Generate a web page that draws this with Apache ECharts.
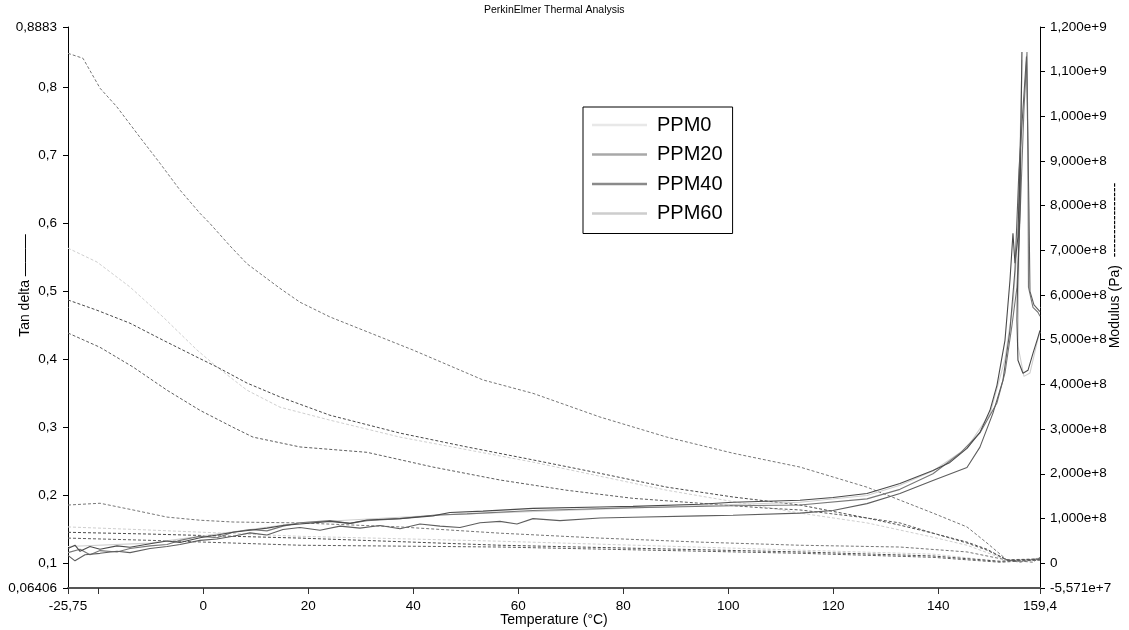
<!DOCTYPE html>
<html>
<head>
<meta charset="utf-8">
<script src="https://cdn.jsdelivr.net/npm/echarts@6/dist/echarts.min.js"></script>
<style>
html,body{margin:0;padding:0;background:#fff;}
#chart{width:1129px;height:630px;}
</style>
</head>
<body>
<div id="chart"></div>
<script>
// ---------- DATA ----------
const samples = ['PPM0', 'PPM20', 'PPM40', 'PPM60'];
const xTicks = [-25.75, -20, 0, 20, 40, 60, 80, 100, 120, 140, 159.4];
const xLabels = [-25.75, 0, 20, 40, 60, 80, 100, 120, 140, 159.4];
const tanTicks = [0.06406, 0.1, 0.2, 0.3, 0.4, 0.5, 0.6, 0.7, 0.8, 0.8883];
const modTicks = [-5.571e7, 0, 1e8, 2e8, 3e8, 4e8, 5e8, 6e8, 7e8, 8e8, 9e8, 1e9, 1.1e9, 1.2e9];

// Storage modulus (Pa) vs temperature (°C) — dashed, right axis
const storagePPM0 = [[-25.75,7.05e8],[-20.23,6.74e8],[-13.94,6.18e8],[-7.65,5.51e8],[-1.18,4.77e8],[2.63,4.39e8],[8.35,3.87e8],[14.63,3.49e8],[24.15,3.20e8],[37.49,2.82e8],[62.82,2.26e8],[88.34,1.63e8],[113.68,1.12e8],[126.44,0.90e8],[139.01,0.58e8],[145.49,0.40e8],[153.11,0.07e8],[159.4,0.11e8]];
const storagePPM20 = [[-25.75,11.41e8],[-22.9,11.30e8],[-19.65,10.63e8],[-16.42,10.21e8],[-12.04,9.53e8],[-8.23,8.95e8],[-4.42,8.35e8],[-0.61,7.83e8],[1.3,7.6e8],[5.11,7.1e8],[8.35,6.7e8],[14.63,6.15e8],[18.44,5.84e8],[24.15,5.51e8],[39.96,4.77e8],[53.3,4.10e8],[62.82,3.80e8],[75.58,3.27e8],[88.34,2.82e8],[100.92,2.46e8],[113.68,2.15e8],[126.44,1.70e8],[132.72,1.41e8],[139.01,1.12e8],[145.49,0.81e8],[149.3,0.45e8],[153.11,0.07e8],[155.58,0.02e8],[159.4,0.11e8]];
const storagePPM40 = [[-25.75,5.89e8],[-20.23,5.66e8],[-13.94,5.37e8],[-7.65,4.99e8],[-1.18,4.61e8],[2.63,4.39e8],[8.35,4.03e8],[14.63,3.72e8],[24.15,3.31e8],[37.49,2.91e8],[50.25,2.60e8],[62.82,2.31e8],[75.58,2.01e8],[88.34,1.70e8],[100.92,1.48e8],[113.68,1.30e8],[126.44,1.01e8],[132.72,0.85e8],[139.01,0.67e8],[145.49,0.47e8],[149.3,0.31e8],[153.11,0.07e8],[159.4,0.09e8]];
const storagePPM60 = [[-25.75,5.15e8],[-19.65,4.83e8],[-13.37,4.39e8],[-6.89,3.87e8],[-0.61,3.42e8],[5.68,3.04e8],[9.49,2.82e8],[18.44,2.60e8],[31.2,2.48e8],[43.77,2.15e8],[56.54,1.86e8],[69.3,1.63e8],[81.87,1.45e8],[94.63,1.34e8],[107.39,1.23e8],[113.68,1.19e8],[126.44,1.01e8],[132.72,0.90e8],[139.01,0.67e8],[145.49,0.45e8],[149.3,0.29e8],[153.11,0.07e8],[159.4,0.07e8]];

// Loss modulus (Pa) — dashed, right axis
const lossPPM0 = [[-25.75,0.81e8],[-10.13,0.74e8],[18.44,0.60e8],[56.54,0.49e8],[113.68,0.29e8],[139.01,0.20e8],[151.77,0.04e8],[159.4,0.09e8]];
const lossPPM20 = [[-25.75,1.30e8],[-19.65,1.34e8],[-13.37,1.19e8],[-6.89,1.03e8],[-0.61,0.96e8],[5.68,0.92e8],[18.44,0.90e8],[37.49,0.81e8],[56.54,0.67e8],[75.58,0.56e8],[94.63,0.47e8],[113.68,0.40e8],[132.72,0.36e8],[145.49,0.25e8],[153.11,0.07e8],[158.06,0.02e8],[159.4,0.13e8]];
const lossPPM40 = [[-25.75,0.69e8],[-10.13,0.65e8],[18.44,0.56e8],[56.54,0.40e8],[113.68,0.25e8],[139.01,0.16e8],[151.77,0.04e8],[159.4,0.09e8]];
const lossPPM60 = [[-25.75,0.56e8],[-10.13,0.51e8],[18.44,0.40e8],[56.54,0.36e8],[113.68,0.22e8],[139.01,0.13e8],[151.77,0.02e8],[159.4,0.07e8]];

// Tan delta — solid, left axis
const tanPPM0 = [[-25.75,0.125],[-10.13,0.130],[-0.61,0.140],[18.44,0.160],[47.01,0.172],[75.58,0.180],[113.68,0.190],[126.44,0.200],[132.72,0.215],[139.01,0.236],[145.49,0.27],[149.87,0.32],[152.73,0.40],[154.25,0.48],[155.2,0.58],[155.96,0.84],[155.39,0.55],[155.2,0.42],[156.34,0.375],[157.49,0.38],[159.01,0.43],[159.4,0.44]];
const tanPPM20 = [[-25.75,0.116],[-23.46,0.121],[-21.56,0.113],[-19.65,0.119],[-16.42,0.117],[-13.94,0.122],[-10.13,0.126],[-6.89,0.128],[-4.42,0.134],[-0.61,0.140],[2.63,0.138],[5.68,0.146],[8.92,0.150],[12.15,0.148],[15.2,0.155],[18.44,0.160],[24.15,0.163],[27.96,0.159],[31.2,0.163],[37.49,0.166],[43.77,0.171],[50.25,0.173],[62.82,0.178],[81.87,0.182],[100.92,0.185],[113.68,0.186],[126.44,0.195],[132.72,0.209],[139.01,0.232],[144.15,0.262],[147.96,0.292],[151.2,0.336],[152.73,0.380],[154.06,0.450],[155.01,0.506],[155.58,0.605],[156.34,0.766],[156.92,0.8515],[157.11,0.707],[157.2,0.506],[158.06,0.4765],[159.01,0.4692],[159.4,0.4633]];
const tanPPM40 = [[-25.75,0.122],[-24.42,0.127],[-23.46,0.118],[-21.56,0.125],[-19.65,0.121],[-16.42,0.126],[-13.94,0.124],[-10.13,0.129],[-6.89,0.133],[-4.42,0.131],[-0.61,0.138],[2.63,0.142],[5.68,0.146],[8.92,0.149],[12.15,0.152],[15.2,0.156],[18.44,0.158],[24.15,0.162],[27.96,0.159],[31.2,0.164],[37.49,0.166],[43.77,0.170],[47.01,0.175],[53.3,0.177],[62.82,0.181],[75.58,0.183],[81.87,0.184],[94.63,0.187],[100.92,0.190],[113.68,0.193],[119.96,0.197],[126.44,0.203],[132.72,0.2177],[139.01,0.2368],[142.25,0.2486],[145.49,0.2692],[147.96,0.2927],[149.87,0.3251],[151.2,0.3618],[152.73,0.4280],[153.68,0.5162],[154.25,0.5854],[154.63,0.5412],[155.2,0.58],[155.77,0.75],[155.96,0.8515],[155.58,0.62],[155.1,0.50],[155.01,0.4574],[155.2,0.3986],[156.15,0.3795],[157.11,0.3839],[158.06,0.4089],[159.01,0.4324],[159.4,0.4427]];
const tanPPM60 = [[-25.75,0.112],[-24.42,0.104],[-22.51,0.113],[-19.65,0.115],[-16.42,0.118],[-13.94,0.116],[-10.13,0.122],[-6.89,0.125],[-4.42,0.128],[-0.61,0.134],[2.63,0.136],[5.68,0.140],[8.92,0.145],[12.15,0.142],[15.2,0.150],[18.44,0.153],[22.25,0.149],[26.06,0.155],[29.87,0.152],[33.68,0.156],[37.49,0.151],[41.3,0.158],[45.11,0.155],[48.92,0.153],[52.73,0.160],[56.54,0.162],[59.77,0.158],[62.82,0.166],[67.96,0.163],[75.58,0.167],[81.87,0.168],[94.63,0.170],[100.92,0.171],[113.68,0.174],[119.96,0.178],[126.44,0.188],[132.72,0.203],[139.01,0.222],[145.49,0.241],[147.96,0.271],[150.44,0.321],[152.34,0.369],[153.68,0.443],[154.63,0.531],[155.39,0.678],[156.82,0.845],[157.3,0.62],[157.49,0.50],[158.25,0.48],[159.4,0.47]];

// ---------- STYLE ----------
const curveColor = {PPM0:'#cfcfcf', PPM20:'#777777', PPM40:'#4a4a4a', PPM60:'#5e5e5e'};
const legendColor = {PPM0:'#e8e8e8', PPM20:'#a8a8a8', PPM40:'#8a8a8a', PPM60:'#cdcdcd'};
const FONT = 'Liberation Sans, Arial, sans-serif';

function fmtDec(v){ return String(v).replace('.', ','); }
function fmtSci(v){
  if (v === 0) return '0';
  const e = Math.floor(Math.log10(Math.abs(v)) + 1e-12);
  const m = v / Math.pow(10, e);
  return m.toFixed(3).replace('.', ',') + 'e+' + e;
}

const tanSets = {PPM0: tanPPM0, PPM20: tanPPM20, PPM40: tanPPM40, PPM60: tanPPM60};
const storSets = {PPM0: storagePPM0, PPM20: storagePPM20, PPM40: storagePPM40, PPM60: storagePPM60};
const lossSets = {PPM0: lossPPM0, PPM20: lossPPM20, PPM40: lossPPM40, PPM60: lossPPM60};

const series = [];
samples.forEach(s => {
  series.push({name: s, type:'line', yAxisIndex:0, data: tanSets[s], symbol:'none', showSymbol:false,
    lineStyle:{color: curveColor[s], width:1.1}, itemStyle:{color: curveColor[s]}, z:3});
});
samples.forEach(s => {
  series.push({name: s, type:'line', yAxisIndex:1, data: storSets[s], symbol:'none', showSymbol:false,
    lineStyle:{color: curveColor[s], width:1, type:[3,2]}, itemStyle:{color: curveColor[s]}, z:2});
  series.push({name: s, type:'line', yAxisIndex:1, data: lossSets[s], symbol:'none', showSymbol:false,
    lineStyle:{color: curveColor[s], width:1, type:[3,2]}, itemStyle:{color: curveColor[s]}, z:2});
});

const chart = echarts.init(document.getElementById('chart'), null, {renderer:'canvas'});
chart.setOption({
  animation: false,
  backgroundColor: '#fff',
  textStyle: {fontFamily: FONT},
  title: {text: 'PerkinElmer Thermal Analysis', left: 484, top: 5, padding: 0,
    textStyle: {fontSize: 10.5, fontWeight: 'normal', color: '#000', fontFamily: FONT}},
  legend: {
    orient: 'vertical', left: 583, top: 107,
    backgroundColor: '#fff', borderColor: '#000', borderWidth: 1, borderRadius: 0,
    padding: [8, 10, 10, 9], itemWidth: 55, itemHeight: 2.5, itemGap: 9.5,
    icon: 'rect',
    textStyle: {fontSize: 20, color: '#000', fontFamily: FONT, padding: [0, 0, 0, 5]},
    data: samples.map(s => ({name: s, icon: 'rect', itemStyle: {color: legendColor[s], borderWidth: 0}}))
  },
  grid: {left: 68, right: 89, top: 27, bottom: 42, containLabel: false, outerBoundsMode: 'none'},
  xAxis: {
    type: 'value', min: -25.75, max: 159.4,
    name: 'Temperature (°C)', nameLocation: 'middle', nameGap: 25, nameMoveOverlap: false,
    nameTextStyle: {fontSize: 14, color: '#000', fontFamily: FONT},
    axisLine: {onZero: false, lineStyle: {color: '#555', width: 2}},
    axisTick: {customValues: xTicks, length: 6, lineStyle: {color: '#333', width: 1}},
    axisLabel: {customValues: xLabels, formatter: fmtDec, fontSize: 13.5, color: '#000', margin: 11, fontFamily: FONT},
    splitLine: {show: false}
  },
  yAxis: [{
    type: 'value', position: 'left', min: 0.06406, max: 0.8883,
    name: 'Tan delta ———', nameLocation: 'middle', nameRotate: 90, nameGap: 43, nameMoveOverlap: false,
    nameTextStyle: {fontSize: 14, color: '#000', fontFamily: FONT, align: 'center', verticalAlign: 'middle', padding: [0, 0, 0, 44]},
    axisLine: {show: true, onZero: false, lineStyle: {color: '#000', width: 1}},
    axisTick: {show: true, customValues: tanTicks, length: 5, lineStyle: {color: '#000'}},
    axisLabel: {customValues: tanTicks, formatter: fmtDec, fontSize: 13.5, color: '#000', margin: 11, fontFamily: FONT},
    splitLine: {show: false}
  }, {
    type: 'value', position: 'right', min: -5.571e7, max: 1.2e9,
    name: 'Modulus (Pa)  ----------------', nameLocation: 'middle', nameRotate: 90, nameGap: 75, nameMoveOverlap: false,
    nameTextStyle: {fontSize: 14, color: '#000', fontFamily: FONT, align: 'center', verticalAlign: 'middle', padding: [0, 0, 0, 84]},
    axisLine: {show: true, onZero: false, lineStyle: {color: '#000', width: 1}},
    axisTick: {show: true, customValues: modTicks, length: 5, lineStyle: {color: '#000'}},
    axisLabel: {customValues: modTicks, formatter: fmtSci, fontSize: 13.5, color: '#000', margin: 10, fontFamily: FONT},
    splitLine: {show: false}
  }],
  series: series
});
</script>
</body>
</html>
